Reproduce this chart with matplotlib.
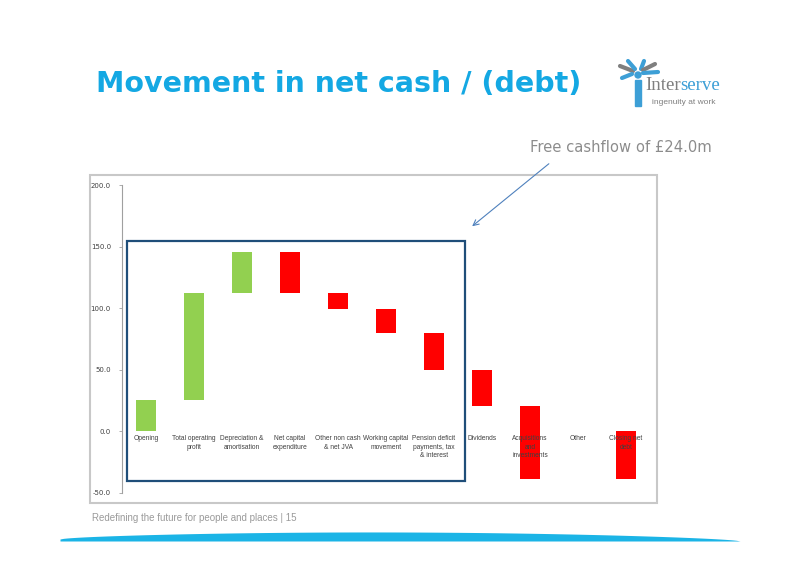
import numpy as np
import matplotlib
matplotlib.use('Agg')
import matplotlib.pyplot as plt
from matplotlib.patches import Rectangle, Circle

# waterfall data (GBP m)
categories = ['Opening', 'Total operating\nprofit', 'Depreciation &\namortisation',
              'Net capital\nexpenditure', 'Other non cash\n& net JVA', 'Working capital\nmovement',
              'Pension deficit\npayments, tax\n& interest', 'Dividends',
              'Acquisitions\nand\ninvestments', 'Other', 'Closing net\ndebt']
bar_bottom = [0.0, 25.5, 112.0, 112.0, 99.0, 80.0, 49.5, 21.0, -39.0, -39.0, -39.0]
bar_top = [25.5, 112.0, 146.0, 146.0, 112.0, 99.0, 80.0, 49.5, 21.0, -38.6, 0.0]
bar_kind = ['up', 'up', 'up', 'down', 'down', 'down', 'down', 'down', 'down', 'up', 'down']
y_ticks = [-50.0, 0.0, 50.0, 100.0, 150.0, 200.0]

GREEN = '#92d050'
RED = '#ff0000'
CYAN = '#14a8e3'
LOGO_BLUE = '#3d9fd6'
LOGO_GREY = '#7f7f7f'

fig = plt.figure(figsize=(8, 5.66), dpi=100)

# full-figure overlay in pixel coords for the slide decorations
deco = fig.add_axes([0, 0, 1, 1], zorder=0)
deco.set_xlim(0, 800)
deco.set_ylim(566, 0)
deco.axis('off')

deco.text(96, 84, 'Movement in net cash / (debt)', color=CYAN, fontsize=20.5,
          fontweight='bold', family='DejaVu Sans', va='center', ha='left')

# chart frame
deco.add_patch(Rectangle((90, 175), 567, 328, fill=False, edgecolor='#c8c8c8', lw=1.5))

deco.text(712, 148, 'Free cashflow of \u00a324.0m', color='#8c8c8c', fontsize=10.6,
          family='DejaVu Sans', ha='right', va='center')
deco.annotate('', xy=(470, 228), xytext=(551, 162),
              arrowprops=dict(arrowstyle='->', color='#4f81bd', lw=0.8))

# footer
deco.text(92, 518, 'Redefining the future for people and places | 15', color='#9a9a9a',
          fontsize=7, family='Liberation Sans', va='center')
wx = np.linspace(60, 740, 200)
wtop = 539 - 8 * np.sin(np.pi * (wx - 60) / 680) ** 0.6 + 2 * (wx - 60) / 680
deco.fill_between(wx, wtop, 541, color='#1bb4e6', lw=0)

# logo
t_inter = deco.text(645, 86, 'Inter', color=LOGO_GREY, fontsize=13.6, family='Liberation Serif', va='center')
fig.canvas.draw()
bb = t_inter.get_window_extent()
x_serve = deco.transData.inverted().transform((bb.x1, bb.y0))[0]
deco.text(x_serve, 86, 'serve', color=LOGO_BLUE, fontsize=13.6, family='Liberation Serif', va='center')
deco.text(652, 103, 'ingenuity at work', color=LOGO_GREY, fontsize=6, family='Liberation Sans', va='center')
deco.add_patch(Rectangle((635, 80), 6, 26, color=LOGO_BLUE))
deco.add_patch(Circle((638, 75), 3, color=LOGO_BLUE))
for (x0, y0, x1, y1, c) in [(633, 71, 620, 66, LOGO_GREY), (635, 69, 628, 61, LOGO_BLUE),
                            (641, 69, 644, 61, LOGO_BLUE), (643, 70, 655, 64, LOGO_GREY),
                            (643, 73, 658, 72, LOGO_BLUE), (632, 74, 622, 78, LOGO_BLUE)]:
    deco.plot([x0, x1], [y0, y1], color=c, lw=3, solid_capstyle='round')

# waterfall chart
ax = fig.add_axes([0.1525, 0.129, 0.66, 0.544], zorder=1)
ax.patch.set_alpha(0)
x = np.arange(len(categories))
heights = np.array(bar_top) - np.array(bar_bottom)
colors = [GREEN if k == 'up' else RED for k in bar_kind]
ax.bar(x, heights, bottom=bar_bottom, width=0.42, color=colors, zorder=2)

for i, lab in enumerate(categories):
    ax.text(i, -3, lab, ha='center', va='top', fontsize=4.8, color='#404040',
            family='Liberation Sans', linespacing=1.3, zorder=3)

ax.set_xlim(-0.5, len(categories) - 0.5)
ax.set_ylim(-50, 200)
ax.set_yticks(y_ticks)
ax.set_yticklabels(['%.1f' % v for v in y_ticks], fontsize=5, color='#404040')
ax.set_xticks([])
for s in ['top', 'right', 'bottom']:
    ax.spines[s].set_visible(False)
ax.spines['left'].set_color('#a0a0a0')
ax.spines['left'].set_linewidth(0.8)
ax.tick_params(axis='y', length=2, width=0.6, color='#a0a0a0', pad=6)

# highlight box round the free-cashflow items
ax.add_patch(Rectangle((-0.4, -40.5), 7.05, 195.5, fill=False, edgecolor='#1f4e79',
                       lw=1.6, clip_on=False, zorder=4))

fig.savefig('out.png', dpi=100)
